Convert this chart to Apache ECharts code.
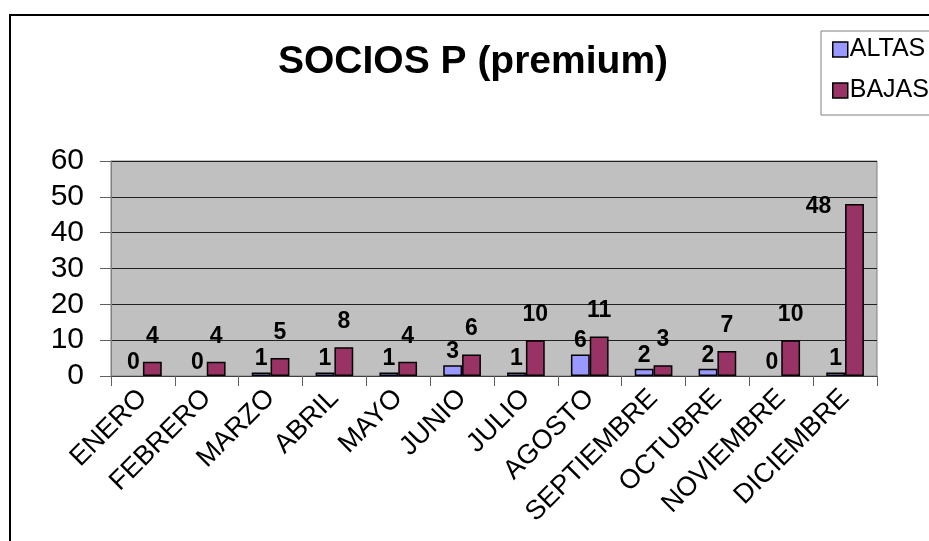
<!DOCTYPE html>
<html>
<head>
<meta charset="utf-8">
<script src="https://cdn.jsdelivr.net/npm/echarts@6/dist/echarts.min.js"></script>
<style>
html,body{margin:0;padding:0;background:#fff;}
#c{width:929px;height:541px;}
</style>
</head>
<body>
<div id="c"></div>
<script>
const titleText = 'SOCIOS P (premium)';
const categories = ['ENERO','FEBRERO','MARZO','ABRIL','MAYO','JUNIO','JULIO','AGOSTO','SEPTIEMBRE','OCTUBRE','NOVIEMBRE','DICIEMBRE'];
const altas = [0,0,1,1,1,3,1,6,2,2,0,1];
const bajas = [4,4,5,8,4,6,10,11,3,7,10,48];
const yTicks = {min:0, max:60, interval:10};

const chart = echarts.init(document.getElementById('c'));
const font = 'Arial, "Liberation Sans", sans-serif';

const zeroStyle = v => (v === 0 ? {itemStyle:{borderWidth:0}} : {});
const altasData = altas.map(v => Object.assign({value:v}, zeroStyle(v)));
const bajasData = bajas.map((v,i)=> {
  const d = Object.assign({value:v}, zeroStyle(v));
  if (i === bajas.length-1) d.label = {offset:[-36, 28]};
  return d;
});

chart.setOption({
  animation:false,
  backgroundColor:'#ffffff',
  title:{
    text:titleText,
    left:278,
    top:43,
    textStyle:{fontFamily:font,fontWeight:'bold',fontSize:39,color:'#000'},
    padding:0
  },
  legend:{
    orient:'vertical',
    left:821,
    top:31,
    padding:[6,20,12,11],
    itemGap:16,
    itemWidth:15,
    itemHeight:15,
    icon:'rect',
    borderColor:'#808080',
    borderWidth:1,
    backgroundColor:'#fff',
    itemStyle:{borderColor:'#000',borderWidth:1.5},
    textStyle:{fontFamily:font,fontSize:25,color:'#000',padding:[0,0,0,-3]},
    data:['ALTAS','BAJAS']
  },
  graphic:[{
    type:'rect',
    shape:{x:10,y:15,width:1000,height:600},
    style:{fill:'none',stroke:'#000',lineWidth:2},
    z:-1,
    silent:true
  }],
  grid:{
    left:111, top:161, right:52, bottom:165,
    show:true,
    backgroundColor:'#C0C0C0',
    borderColor:'#808080',
    borderWidth:1
  },
  xAxis:{
    type:'category',
    data:categories,
    axisLine:{lineStyle:{color:'#404040',width:1}},
    axisTick:{show:true,length:10,lineStyle:{color:'#606060'}},
    axisLabel:{
      interval:0,rotate:45,margin:18,
      fontFamily:font,fontSize:27,color:'#000'
    }
  },
  yAxis:{
    type:'value',
    min:yTicks.min,max:yTicks.max,interval:yTicks.interval,
    axisLine:{show:true,lineStyle:{color:'#808080'}},
    axisTick:{show:true,length:11,lineStyle:{color:'#606060'}},
    splitLine:{show:true,lineStyle:{color:'#202020',width:1}},
    axisLabel:{margin:27,fontFamily:font,fontSize:30,color:'#000'}
  },
  series:[
    {
      name:'ALTAS',type:'bar',data:altasData,
      barGap:'0%',barCategoryGap:'41%',
      itemStyle:{color:'#9999FF',borderColor:'#000',borderWidth:1.5},
      label:{show:true,position:'top',distance:2,fontFamily:font,fontWeight:'bold',fontSize:23,color:'#000'}
    },
    {
      name:'BAJAS',type:'bar',data:bajasData,
      barGap:'0%',barCategoryGap:'41%',
      itemStyle:{color:'#993366',borderColor:'#000',borderWidth:1.5},
      label:{show:true,position:'top',distance:14,fontFamily:font,fontWeight:'bold',fontSize:23,color:'#000'}
    }
  ]
});
</script>
</body>
</html>
